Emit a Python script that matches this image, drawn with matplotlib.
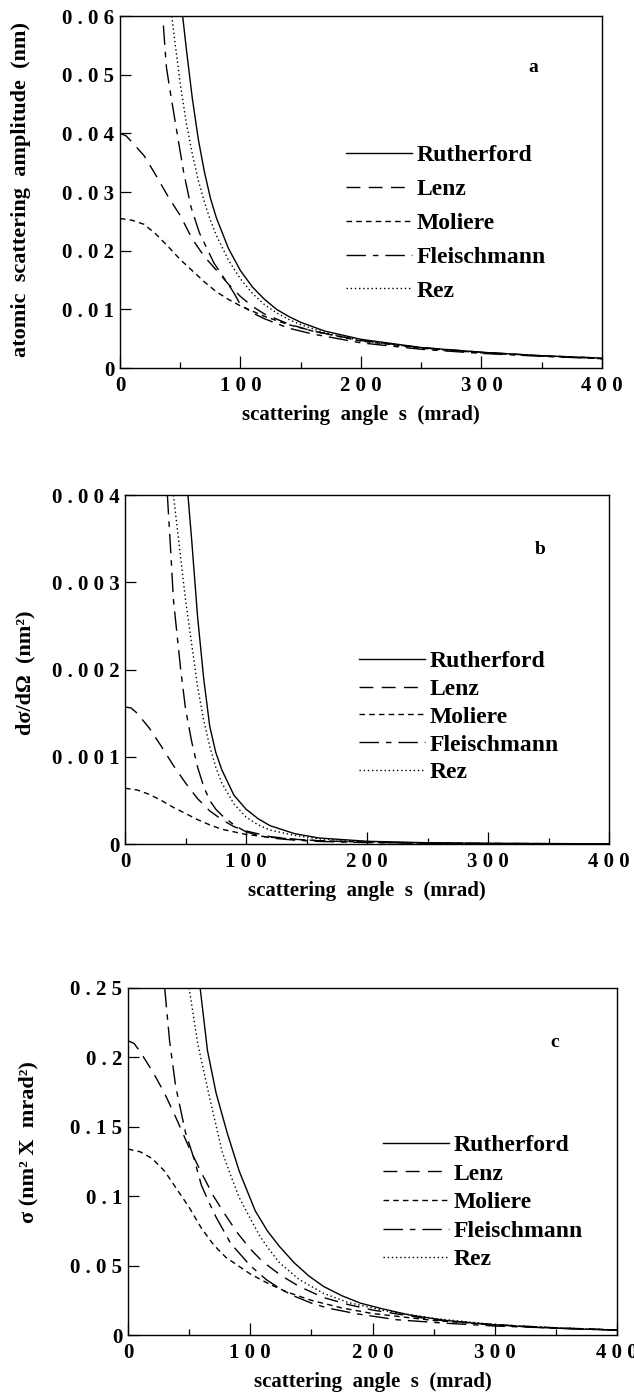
import matplotlib
matplotlib.use('Agg')
import matplotlib.pyplot as plt
from matplotlib.ticker import MultipleLocator

plt.rcParams['font.family'] = ['Liberation Serif', 'DejaVu Serif']
plt.rcParams['font.weight'] = 'bold'

# ---- panel a: atomic scattering amplitude (nm) ----
a_ruth_s = [52, 55, 60, 65, 70, 75, 80, 90, 100, 110, 120, 130, 140, 150, 170, 200, 250, 300, 350, 400]
a_ruth_f = [0.060, 0.0545, 0.046, 0.039, 0.0335, 0.029, 0.0256, 0.0204, 0.0166, 0.0138, 0.0117, 0.0100,
            0.0088, 0.0078, 0.0063, 0.0049, 0.0035, 0.0027, 0.0021, 0.0017]
a_lenz_s = [0, 5, 10, 20, 30, 40, 50, 60, 70, 80, 90, 100, 110, 120, 140, 160, 200, 250, 300, 350, 400]
a_lenz_f = [0.0400, 0.0396, 0.0385, 0.0362, 0.0328, 0.0292, 0.0260, 0.0220, 0.0190, 0.0167, 0.0143,
            0.0122, 0.0105, 0.0092, 0.0075, 0.0063, 0.0047, 0.0035, 0.0027, 0.0021, 0.0017]
a_mol_s = [0, 10, 20, 30, 40, 50, 60, 70, 80, 90, 100, 120, 140, 160, 200, 250, 300, 350, 400]
a_mol_f = [0.0255, 0.0252, 0.0245, 0.0228, 0.0207, 0.0185, 0.0166, 0.0147, 0.0130, 0.0117, 0.0106,
           0.0088, 0.0074, 0.0063, 0.0046, 0.0034, 0.0026, 0.0021, 0.0016]
a_fle_s = [36, 38.5, 41, 47, 53, 59, 66, 78, 94, 100, 110, 120, 140, 160, 200, 250, 300, 350, 400]
a_fle_f = [0.0584, 0.0513, 0.048, 0.0405, 0.0332, 0.0274, 0.023, 0.0179, 0.013, 0.0108, 0.0094,
           0.0084, 0.0068, 0.0058, 0.0043, 0.0032, 0.0025, 0.0020, 0.0016]
a_rez_s = [43, 45, 50, 55, 60, 65, 70, 75, 80, 90, 100, 110, 120, 130, 140, 150, 170, 200, 250, 300, 350, 400]
a_rez_f = [0.060, 0.0565, 0.0485, 0.0418, 0.0365, 0.032, 0.0283, 0.0252, 0.0226, 0.0184, 0.0152, 0.0127,
           0.0108, 0.0094, 0.0083, 0.0074, 0.0060, 0.0047, 0.0034, 0.0026, 0.0021, 0.0016]

# ---- panel b: d sigma / d Omega (nm^2) ----
b_ruth_s = [52, 55, 60, 65, 70, 75, 80, 90, 100, 110, 120, 140, 160, 200, 250, 300, 400]
b_ruth_v = [0.0040, 0.0035, 0.0026, 0.0019, 0.00135, 0.00105, 0.00085, 0.00056, 0.0004, 0.00029,
            0.00021, 0.00012, 0.00007, 0.000032, 0.000015, 0.000008, 0.000003]
b_lenz_s = [0, 5, 10, 20, 30, 40, 50, 60, 70, 80, 90, 100, 120, 140, 160, 200, 250, 300, 400]
b_lenz_v = [0.00157, 0.00156, 0.0015, 0.00133, 0.00112, 0.0009, 0.0007, 0.00052, 0.00038, 0.00028,
            0.0002, 0.00015, 0.000085, 0.000055, 0.000038, 0.00002, 0.00001, 0.000006, 0.000003]
b_mol_s = [0, 10, 20, 30, 40, 50, 60, 70, 80, 90, 100, 120, 140, 160, 200, 250, 300, 400]
b_mol_v = [0.00064, 0.00062, 0.00057, 0.0005, 0.00042, 0.00035, 0.00028, 0.00022, 0.00017, 0.00014,
           0.00011, 0.000078, 0.000055, 0.000039, 0.000021, 0.00001, 0.000006, 0.000003]
b_fle_s = [35, 38, 40, 43, 46, 50, 55, 60, 65, 70, 75, 80, 90, 100, 110, 120, 140, 160, 200, 300, 400]
b_fle_v = [0.0040, 0.0033, 0.0028, 0.0024, 0.0020, 0.00155, 0.00118, 0.00088, 0.00066, 0.0005, 0.0004,
           0.00033, 0.00022, 0.00014, 0.0001, 0.00007, 0.000045, 0.00003, 0.000017, 0.000006, 0.000002]
b_rez_s = [40, 45, 50, 55, 60, 65, 70, 75, 80, 90, 100, 110, 120, 140, 160, 200, 250, 300, 400]
b_rez_v = [0.0040, 0.0034, 0.0028, 0.0023, 0.0018, 0.00142, 0.00112, 0.00088, 0.0007, 0.00046, 0.00031,
           0.00022, 0.00016, 0.0001, 0.00006, 0.000027, 0.000013, 0.000007, 0.000003]

# ---- panel c: sigma (nm^2 x mrad^2) ----
c_ruth_s = [59, 65, 72, 81, 91, 104, 114, 124, 136, 148, 160, 175, 190, 208, 230, 259, 290, 326, 360, 400]
c_ruth_v = [0.25, 0.205, 0.1745, 0.146, 0.118, 0.0896, 0.075, 0.0637, 0.052, 0.0425, 0.035, 0.0283,
            0.023, 0.0189, 0.0145, 0.0106, 0.008, 0.0059, 0.0046, 0.0035]
c_lenz_s = [0, 5, 10, 20, 30, 40, 50, 60, 70, 80, 90, 100, 110, 125, 140, 160, 180, 200, 250, 300, 350, 400]
c_lenz_v = [0.212, 0.21, 0.204, 0.19, 0.174, 0.155, 0.135, 0.117, 0.1, 0.086, 0.073, 0.062, 0.053, 0.043,
            0.035, 0.027, 0.022, 0.018, 0.011, 0.0075, 0.0052, 0.0037]
c_mol_s = [0, 10, 20, 30, 40, 50, 60, 70, 80, 90, 100, 115, 130, 150, 175, 200, 250, 300, 350, 400]
c_mol_v = [0.134, 0.132, 0.127, 0.118, 0.105, 0.092, 0.077, 0.065, 0.056, 0.05, 0.044, 0.037, 0.031,
           0.025, 0.0195, 0.0155, 0.0105, 0.0072, 0.005, 0.0036]
c_fle_s = [30, 34, 39, 47, 54, 60, 66, 72, 84, 91, 100, 113, 125, 136, 150, 163, 187, 220, 260, 300, 350, 400]
c_fle_v = [0.25, 0.212, 0.179, 0.146, 0.127, 0.108, 0.096, 0.085, 0.066, 0.059, 0.05, 0.04, 0.033, 0.028,
           0.023, 0.0195, 0.0153, 0.011, 0.0085, 0.0065, 0.005, 0.0035]
c_rez_s = [50, 57, 62, 67, 72, 77, 84, 91, 100, 108, 116, 124, 140, 160, 180, 210, 250, 300, 350, 400]
c_rez_v = [0.25, 0.21, 0.19, 0.17, 0.151, 0.132, 0.115, 0.099, 0.084, 0.071, 0.061, 0.052, 0.040, 0.030,
           0.0235, 0.0175, 0.012, 0.0075, 0.0052, 0.0037]

names = ['Rutherford', 'Lenz', 'Moliere', 'Fleischmann', 'Rez']
dashes = [(), (10, 6), (4, 3), (14, 5, 4, 5), (1, 2)]

a_yticks = [0, 0.01, 0.02, 0.03, 0.04, 0.05, 0.06]
b_yticks = [0, 0.001, 0.002, 0.003, 0.004]
c_yticks = [0, 0.05, 0.1, 0.15, 0.2, 0.25]
c_ytick_text = ['0', '0.05', '0.1', '0.15', '0.2', '0.25']
xticks = [0, 100, 200, 300, 400]


def spaced(t):
    return ' '.join(t)


panels = [
    dict(pos=[0.1893, 0.7371, 0.760, 0.2514], ymax=0.06, yt=a_yticks,
         ytl=['0'] + ['%.2f' % v for v in a_yticks[1:]],
         curves=[(a_ruth_s, a_ruth_f), (a_lenz_s, a_lenz_f), (a_mol_s, a_mol_f), (a_fle_s, a_fle_f), (a_rez_s, a_rez_f)],
         ylabel='atomic  scattering  amplitude  (nm)', ylc=(-0.185, 0.506), tag='a', tagpos=(343, 0.0513),
         leg=(0.469, 0.634), lsp=0.52),
    dict(pos=[0.1972, 0.3971, 0.7634, 0.2493], ymax=0.004, yt=b_yticks,
         ytl=['0'] + ['%.3f' % v for v in b_yticks[1:]],
         curves=[(b_ruth_s, b_ruth_v), (b_lenz_s, b_lenz_v), (b_mol_s, b_mol_v), (b_fle_s, b_fle_v), (b_rez_s, b_rez_v)],
         ylabel='dσ/dΩ  (nm²)', ylc=(-0.186, 0.49), tag='b', tagpos=(343, 0.00338),
         leg=(0.483, 0.555), lsp=0.27),
    dict(pos=[0.2019, 0.0464, 0.7713, 0.2479], ymax=0.25, yt=c_yticks, ytl=c_ytick_text,
         curves=[(c_ruth_s, c_ruth_v), (c_lenz_s, c_lenz_v), (c_mol_s, c_mol_v), (c_fle_s, c_fle_v), (c_rez_s, c_rez_v)],
         ylabel='σ (nm² X  mrad²)', ylc=(-0.184, 0.556), tag='c', tagpos=(349, 0.211),
         leg=(0.521, 0.578), lsp=0.3),
]

fig = plt.figure(figsize=(6.34, 14), dpi=100)

for p in panels:
    ax = fig.add_axes(p['pos'])
    for (s, v), name, d in zip(p['curves'], names, dashes):
        line, = ax.plot(s, v, color='black', lw=1.0, label=name)
        if d:
            line.set_dashes(d)
    ax.set_xlim(0, 400)
    ax.set_ylim(0, p['ymax'])
    ax.set_xticks(xticks)
    ax.set_xticklabels([spaced(str(x)) for x in xticks], fontsize=15, fontweight='bold')
    ax.xaxis.set_minor_locator(MultipleLocator(50))
    ax.set_yticks(p['yt'])
    ax.set_yticklabels([spaced(t) for t in p['ytl']], fontsize=15, fontweight='bold')
    ax.tick_params(which='major', direction='in', length=9, width=0.9, pad=6)
    ax.tick_params(which='minor', direction='in', length=4, width=0.9)
    ax.tick_params(axis='y', which='major', length=8, pad=4)
    for sp in ax.spines.values():
        sp.set_linewidth(1.0)
    ax.set_xlabel('scattering  angle  s  (mrad)', fontsize=15, fontweight='bold', labelpad=6)
    ax.set_ylabel(p['ylabel'], fontsize=16, fontweight='bold')
    ax.yaxis.set_label_coords(*p['ylc'])
    ax.text(p['tagpos'][0], p['tagpos'][1], p['tag'], fontsize=14, fontweight='bold', ha='center', va='center')
    ax.legend(loc='upper left', bbox_to_anchor=p['leg'], frameon=False,
              prop={'weight': 'bold', 'size': 17}, handlelength=2.8, handletextpad=0.2,
              labelspacing=p['lsp'], borderpad=0, borderaxespad=0)

fig.savefig('out.png', dpi=100)
